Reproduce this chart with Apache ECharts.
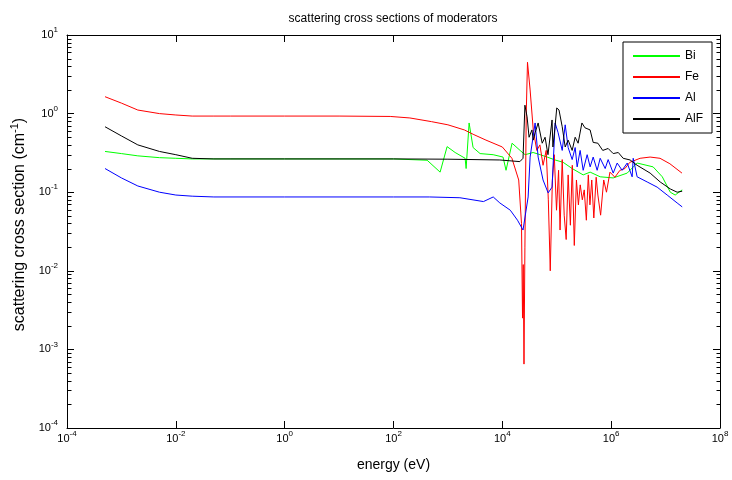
<!DOCTYPE html>
<html><head><meta charset="utf-8">
<script src="https://cdn.jsdelivr.net/npm/echarts@6/dist/echarts.min.js"></script>
<style>html,body{margin:0;padding:0;background:#fff}#c{width:732px;height:480px}</style>
</head><body><div id="c"></div>
<script>
const seriesNames = ['Bi', 'Fe', 'Al', 'AlF'];
const seriesColors = ['#00ff00', '#ff0000', '#0000ff', '#000000'];

const biE = [5e-4, 1e-3, 2e-3, 5e-3, 1e-2, 2e-2, 1e-1, 1, 10, 100, 415, 719, 966, 1356, 2070, 2160, 2450, 2900, 3900, 6780, 1.03e4, 1.17e4, 1.51e4, 2.12e4, 2.62e4, 3.68e4, 4.95e4, 6.66e4, 9.34e4, 1.31e5, 1.92e5, 3.06e5, 4.11e5, 6.28e5, 1.09e6, 1.97e6, 3.0e6, 5.9e6, 8.7e6, 1.22e7, 1.5e7, 2.02e7];
const biS = [0.33, 0.31, 0.29, 0.275, 0.27, 0.265, 0.265, 0.265, 0.265, 0.265, 0.255, 0.18, 0.38, 0.32, 0.27, 0.20, 0.76, 0.37, 0.31, 0.30, 0.28, 0.19, 0.42, 0.34, 0.30, 0.32, 0.30, 0.28, 0.257, 0.24, 0.20, 0.166, 0.18, 0.157, 0.152, 0.175, 0.235, 0.21, 0.157, 0.10, 0.092, 0.107];

const feE = [5e-4, 1e-3, 2e-3, 5e-3, 1e-2, 2e-2, 5e-2, 1e-1, 1, 10, 87, 200, 500, 1000, 2000, 3000, 5000, 1e4, 1.5e4, 2e4, 2.25e4, 2.35e4, 2.42e4, 2.5e4, 2.6e4, 2.75e4, 2.9e4, 3.24e4, 3.7e4, 4.3e4, 4.9e4, 5.6e4, 6.4e4, 7.0e4, 7.6e4, 8.3e4, 9.0e4, 9.9e4, 1.08e5, 1.15e5, 1.26e5, 1.37e5, 1.49e5, 1.62e5, 1.78e5, 1.93e5, 2.1e5, 2.3e5, 2.5e5, 2.7e5, 2.95e5, 3.2e5, 3.5e5, 3.8e5, 4.07e5, 4.4e5, 4.8e5, 5.3e5, 5.7e5, 6.4e5, 7.3e5, 8.2e5, 9.5e5, 1.17e6, 1.45e6, 1.79e6, 2.2e6, 3.4e6, 5.2e6, 7.9e6, 1.2e7, 2.0e7];
const feS = [1.64, 1.36, 1.11, 1.0, 0.96, 0.93, 0.93, 0.93, 0.93, 0.93, 0.92, 0.88, 0.79, 0.72, 0.62, 0.54, 0.46, 0.376, 0.27, 0.143, 0.04, 0.0025, 0.012, 0.00065, 0.02, 1.0, 4.5, 2.0, 0.62, 0.34, 0.40, 0.22, 0.34, 0.08, 0.010, 0.14, 0.30, 0.059, 0.19, 0.033, 0.26, 0.051, 0.025, 0.166, 0.038, 0.22, 0.021, 0.143, 0.069, 0.124, 0.08, 0.107, 0.044, 0.166, 0.069, 0.143, 0.047, 0.155, 0.092, 0.051, 0.143, 0.10, 0.18, 0.155, 0.19, 0.20, 0.24, 0.27, 0.28, 0.27, 0.23, 0.175];

const alE = [5e-4, 1e-3, 2e-3, 5e-3, 1e-2, 2e-2, 5e-2, 1, 100, 460, 1660, 4500, 6800, 9000, 1.4e4, 1.9e4, 2.4e4, 2.98e4, 3.24e4, 4.0e4, 4.55e4, 5.6e4, 6.95e4, 8.2e4, 9.34e4, 1.06e5, 1.26e5, 1.43e5, 1.62e5, 1.92e5, 2.18e5, 2.37e5, 2.69e5, 3.06e5, 3.62e5, 4.11e5, 4.67e5, 5.53e5, 6.28e5, 7.76e5, 8.8e5, 1.09e6, 1.29e6, 1.59e6, 1.97e6, 2.43e6, 2.54e6, 3.0e6, 4.59e6, 7.0e6, 1.07e7, 1.63e7, 2.02e7];
const alS = [0.20, 0.152, 0.12, 0.10, 0.092, 0.089, 0.087, 0.087, 0.087, 0.087, 0.085, 0.076, 0.087, 0.073, 0.059, 0.044, 0.033, 0.087, 0.28, 0.76, 0.28, 0.143, 0.098, 0.116, 0.76, 0.57, 0.34, 0.72, 0.37, 0.26, 0.37, 0.21, 0.34, 0.19, 0.30, 0.21, 0.28, 0.19, 0.27, 0.20, 0.26, 0.175, 0.235, 0.19, 0.235, 0.157, 0.27, 0.157, 0.135, 0.116, 0.092, 0.073, 0.065];

const alfE = [5e-4, 1e-3, 2e-3, 5e-3, 1e-2, 2e-2, 5e-2, 1, 100, 1000, 9000, 2.1e4, 2.4e4, 2.6e4, 2.85e4, 3.1e4, 3.5e4, 3.7e4, 4.0e4, 4.55e4, 5.4e4, 6.1e4, 6.9e4, 8.2e4, 8.5e4, 9.3e4, 1.0e5, 1.1e5, 1.26e5, 1.43e5, 1.62e5, 1.92e5, 2.18e5, 2.47e5, 2.9e5, 3.3e5, 4.1e5, 4.67e5, 5.7e5, 7.0e5, 8.8e5, 1.09e6, 1.35e6, 1.66e6, 2.23e6, 3.0e6, 5.2e6, 7.96e6, 1.22e7, 1.63e7, 2.02e7];
const alfS = [0.68, 0.52, 0.40, 0.33, 0.30, 0.27, 0.265, 0.265, 0.265, 0.263, 0.257, 0.245, 0.27, 1.28, 0.91, 0.50, 0.62, 0.46, 0.57, 0.76, 0.42, 0.50, 0.30, 0.83, 0.376, 0.68, 1.18, 1.11, 0.68, 0.376, 0.46, 0.34, 0.50, 0.42, 0.76, 0.66, 0.62, 0.43, 0.42, 0.34, 0.36, 0.31, 0.32, 0.27, 0.257, 0.22, 0.175, 0.135, 0.11, 0.10, 0.103];

const xMin = 1e-4, xMax = 1e8, xInterval = 2;
const yMin = 1e-4, yMax = 10, yInterval = 1;
const yDecades = [1e-4, 1e-3, 1e-2, 1e-1, 1];
const yMinorMultipliers = [2, 3, 4, 5, 6, 7, 8, 9];

const FONT = 'Liberation Sans';
function pairs(e, s) { return e.map((v, i) => [v, s[i]]); }
function supLabel(v) {
  const e = Math.round(Math.log10(v));
  return '{b|10}{s|' + e + '}';
}
const tickRich = {
  b: { fontSize: 11, fontFamily: FONT, color: '#000' },
  s: { fontSize: 8, fontFamily: FONT, color: '#000', padding: [0, 0, 10, 0] }
};

const minorData = [];
yDecades.forEach(d => yMinorMultipliers.forEach(m => minorData.push([1, m * d])));

const chart = echarts.init(document.getElementById('c'), null, { renderer: 'canvas' });

function xAxisDef(pos, showLabels) {
  return {
    type: 'log', logBase: 10, min: xMin, max: xMax, interval: xInterval, position: pos,
    axisLine: { show: true, onZero: false, lineStyle: { color: '#000', width: 1 } },
    axisTick: { show: true, inside: true, length: 7, lineStyle: { color: '#000' } },
    axisLabel: { show: showLabels, formatter: supLabel, rich: tickRich, margin: 2, showMinLabel: true, showMaxLabel: true },
    splitLine: { show: false }, minorTick: { show: false }, minorSplitLine: { show: false },
    name: showLabels ? 'energy (eV)' : '', nameLocation: 'middle', nameGap: 30,
    nameTextStyle: { fontSize: 14, fontFamily: FONT, color: '#000' }
  };
}
function yAxisDef(pos, showLabels) {
  return {
    type: 'log', logBase: 10, min: yMin, max: yMax, interval: yInterval, position: pos,
    axisLine: { show: true, onZero: false, lineStyle: { color: '#000', width: 1 } },
    axisTick: { show: true, inside: true, length: 7, lineStyle: { color: '#000' } },
    axisLabel: { show: showLabels, formatter: supLabel, rich: tickRich, margin: 9, showMinLabel: true, showMaxLabel: true },
    splitLine: { show: false }, minorTick: { show: false }, minorSplitLine: { show: false },
    name: showLabels ? '{t|scattering cross section (cm}{s|-1}{t|)}' : '',
    nameLocation: 'middle', nameRotate: 90, nameGap: 30,
    nameTextStyle: {
      padding: [0, 0, 0, 14],
      rich: {
        t: { fontSize: 16, fontFamily: FONT, color: '#000' },
        s: { fontSize: 11, fontFamily: FONT, color: '#000', padding: [0, 0, 10, 0] }
      }
    }
  };
}

const lineSeries = [[biE, biS], [feE, feS], [alE, alS], [alfE, alfS]].map((d, i) => ({
  name: seriesNames[i], type: 'line', xAxisIndex: 0, yAxisIndex: 0,
  data: pairs(d[0], d[1]), symbol: 'none', showSymbol: false,
  lineStyle: { color: seriesColors[i], width: 1 }, itemStyle: { color: seriesColors[i] },
  emphasis: { disabled: true }, silent: true, z: 2 + i
}));

chart.setOption({
  animation: false,
  backgroundColor: '#fff',
  title: {
    text: 'scattering cross sections of moderators', left: 388, top: 8, textAlign: 'center',
    textStyle: { fontSize: 12, fontWeight: 'normal', fontFamily: FONT, color: '#000' }
  },
  grid: { left: 67, right: 12, top: 35, bottom: 52, containLabel: false, outerBoundsMode: 'none' },
  legend: {
    data: seriesNames, orient: 'vertical', left: 623, top: 42,
    itemWidth: 47, itemHeight: 14, itemGap: 9, padding: [8, 9, 8, 9],
    backgroundColor: '#fff', borderColor: '#000', borderWidth: 1, borderRadius: 0,
    itemStyle: { opacity: 0, borderWidth: 0 },
    textStyle: { fontSize: 12, fontFamily: FONT, color: '#000' },
    selectedMode: false, z: 20
  },
  xAxis: [xAxisDef('bottom', true), xAxisDef('top', false)],
  yAxis: [yAxisDef('left', true), yAxisDef('right', false)],
  series: lineSeries.concat([{
    type: 'custom', name: 'minorTicks', xAxisIndex: 0, yAxisIndex: 0, silent: true, clip: false, z: 10,
    data: minorData, encode: { x: 0, y: 1 },
    renderItem: (params, api) => {
      const y = api.value(1);
      const l = api.coord([xMin, y]);
      const r = api.coord([xMax, y]);
      const yy = Math.round(l[1]) + 0.5;
      const xl = Math.round(l[0]) + 0.5, xr = Math.round(r[0]) + 0.5;
      return {
        type: 'group', children: [
          { type: 'line', shape: { x1: xl, y1: yy, x2: xl + 4, y2: yy }, style: { stroke: '#000', lineWidth: 1 } },
          { type: 'line', shape: { x1: xr - 4, y1: yy, x2: xr, y2: yy }, style: { stroke: '#000', lineWidth: 1 } }
        ]
      };
    }
  }])
});
</script></body></html>
